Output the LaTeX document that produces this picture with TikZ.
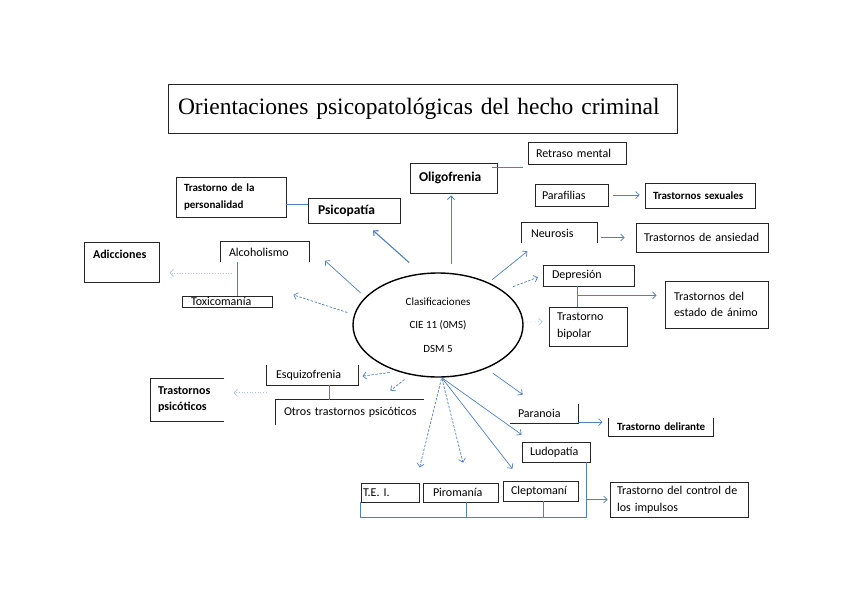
\documentclass[tikz,border=0pt]{standalone}
\usepackage{fontspec}
\setmainfont{Carlito}
\newfontfamily\titlefont{Liberation Serif}
\usetikzlibrary{arrows.meta, shapes.geometric}
\definecolor{linkblue}{RGB}{79,129,189}

\begin{document}
\begin{tikzpicture}[x=1pt, y=-1pt,
  box/.style={draw=black!85, line width=0.9pt, inner xsep=8pt, inner ysep=0pt, align=left,
              font=\fontsize{12}{14}\selectfont},
  open/.style={box, draw=none},
  frame/.style={draw=black!85, line width=0.9pt},
  arr/.style={draw=linkblue, line width=0.7pt, -{Straight Barb[length=3.5pt,width=7pt]}},
  darr/.style={arr, dash pattern=on 2.5pt off 1.5pt},
  farr/.style={arr, draw=linkblue!45, dotted},
  link/.style={draw=linkblue, line width=0.8pt}]
  \useasboundingbox (0,0) rectangle (848,600);
  \fill[white] (0,0) rectangle (848,600);

  \node[box, inner xsep=10pt, text width=489pt, minimum height=49pt, font=\titlefont\fontsize{23.5}{28}\selectfont] (title) at (422.5,108.5) {\mbox{Orientaciones psicopatológicas del hecho criminal}};

  \node[ellipse, draw, line width=1.4pt, minimum width=170pt, minimum height=104pt, align=center, font=\fontsize{11}{23.5}\selectfont] (cls) at (438,325) {Clasificaciones\\CIE 11 (0MS)\\DSM 5};

  \node[box, text width=94pt, minimum height=40pt, font=\bfseries\fontsize{11}{17}\selectfont] (pers) at (231,197) {\mbox{Trastorno de la}\\personalidad};
  \node[box, inner xsep=10pt, text width=72pt, minimum height=25pt, font=\bfseries\fontsize{13.5}{16}\selectfont] (psi) at (354,210.5) {Psicopatía};
  \node[box, inner xsep=9pt, text width=69pt, minimum height=30pt, font=\bfseries\fontsize{13.5}{16}\selectfont] (olig) at (453.5,178) {Oligofrenia};
  \node[box, text width=82pt, minimum height=22pt] (ret) at (577,153) {\mbox{Retraso mental}};
  \node[box, inner xsep=7pt, text width=59pt, minimum height=22pt] (paraf) at (571.5,195) {Parafilias};
  \node[box, text width=94pt, minimum height=25pt, font=\bfseries\fontsize{11}{13}\selectfont] (sex) at (700,195.5) {\mbox{Trastornos sexuales}};
  \node[open, inner xsep=9pt, text width=57pt, minimum height=20pt] (neu) at (559.5,233) {Neurosis};
  \node[box, text width=116pt, minimum height=29pt] (ans) at (702,237.5) {\mbox{Trastornos de ansiedad}};
  \node[box, inner xsep=9pt, text width=73pt, minimum height=21pt] (dep) at (588.5,275.5) {Depresión};
  \node[box, text width=62pt, minimum height=39pt, font=\fontsize{12}{17}\selectfont] (bip) at (588,326.5) {Trastorno\\bipolar};
  \node[box, inner xsep=9pt, text width=85pt, minimum height=47pt, font=\fontsize{12}{16}\selectfont] (est) at (716.5,304.5) {\mbox{Trastornos del}\\\mbox{estado de ánimo}};
  \node[open, text width=72pt, minimum height=20pt] (alc) at (265,252) {Alcoholismo};
  \node[box, inner xsep=9pt, text width=72pt, minimum height=11pt] (tox) at (227,301.5) {Toxicomanía};
  \node[box, inner xsep=9pt, text width=57pt, minimum height=40pt, text depth=16pt, font=\bfseries\fontsize{12}{14}\selectfont] (adi) at (121.5,262) {Adicciones};
  \node[open, inner xsep=7pt, text width=59pt, minimum height=42pt, font=\bfseries\fontsize{12}{16}\selectfont] (tps) at (187.5,400) {Trastornos\\psicóticos};
  \node[open, inner xsep=9pt, text width=73pt, minimum height=20pt] (esq) at (312.5,375) {Esquizofrenia};
  \node[open, text width=132pt, minimum height=25pt] (otr) at (350,412.5) {\mbox{Otros trastornos psicóticos}};
  \node[open, text width=52pt, minimum height=19pt] (par) at (544,413.5) {Paranoia};
  \node[open, text width=88pt, minimum height=18pt, font=\bfseries\fontsize{11}{13}\selectfont] (del) at (661,427) {\mbox{Trastorno delirante}};
  \node[box, text width=52pt, minimum height=20pt] (lud) at (556,452) {Ludopatía};
  \node[box, inner xsep=2pt, text width=54pt, minimum height=19pt] (tei) at (390,492.5) {\mbox{T.E. I.}};
  \node[box, inner xsep=10pt, text width=55pt, minimum height=19pt] (pir) at (460.5,492.5) {Piromanía};
  \node[box, text width=59pt, minimum height=20pt] (clp) at (540.5,491) {Cleptomaní};
  \node[box, inner xsep=7pt, text width=124pt, minimum height=35pt, font=\fontsize{12}{17}\selectfont] (ctl) at (679,499.5) {\mbox{Trastorno del control de}\\\mbox{los impulsos}};

  \draw[frame] (neu.south west) |- (neu.north east) -- (neu.south east);
  \draw[frame] (alc.south west) |- (alc.north east) -- (alc.south east);
  \draw[frame] (esq.north west) |- (esq.south east) -- (esq.north east);
  \draw[frame] (otr.south west) |- (otr.north east);
  \draw[frame] (par.south west) -| (par.north east);
  \draw[frame] (del.north west) |- (del.south east) -- (del.north east);
  \draw[frame] (tps.north east) -| (tps.south west) -- (tps.south east);

  \draw[arr, line width=1.1pt, shorten <=16pt, shorten >=10.5pt] (cls.108) -- (psi.-49);
  \draw[arr, line width=0.9pt, shorten <=8.5pt, shorten >=2pt] (cls.76) -- (cls.76 |- olig.south);
  \draw[arr, shorten <=6pt, shorten >=21pt] (cls.159) -- (alc.7);
  \draw[darr, shorten <=7pt, shorten >=22pt] (cls.173) -- ([yshift=7.5pt]tox.north east);
  \draw[arr, shorten <=4.5pt, shorten >=12.5pt] (cls.40) -- (neu.-155);
  \draw[darr, shorten <=11pt, shorten >=5pt] (cls.28) -- (dep.west);
  \draw[farr, shorten <=1pt, shorten >=6pt] (cls.2) -- (bip.173);
  \draw[darr, shorten <=8pt, shorten >=4pt] (cls.-131) -- (esq.-2);
  \draw[darr, shorten <=7.5pt, shorten >=14.5pt] (cls.-119) -- (otr.24);
  \draw[arr, shorten <=8pt, shorten >=15.5pt] (cls.-42) -- (par.131);
  \draw[arr, shorten <=1pt, shorten >=12pt] (cls.-86) -- (lud.157);
  \draw[arr, shorten <=1pt, shorten >=15pt] (cls.-86) -- (clp.151);
  \draw[darr, shorten <=1pt, shorten >=20.5pt] (cls.-86) -- (pir.53);
  \draw[darr, shorten <=1pt, shorten >=15.5pt] (cls.-86) -- (tei.21);

  \draw[link] (psi.173) -- (pers.east |- psi.173);
  \draw[link, shorten <=-5pt, shorten >=5pt] (olig.14) -- (ret.west |- olig.14);
  \draw[arr, shorten <=5pt, shorten >=5pt] (paraf.east) -- (sex.west |- paraf.east);
  \draw[arr, shorten <=4pt, shorten >=11pt] (neu.east |- ans.west) -- (ans.west);
  \draw[link] (dep.-135) -- (dep.-135 |- bip.north);
  \draw[arr, shorten >=8pt] (dep.-135 |- est.170) -- (est.170);
  \draw[link] (alc.-159) -- (alc.-159 |- tox.north);
  \draw[farr, shorten <=6pt, shorten >=10pt] (alc.-159 |- adi.-16) -- (adi.-16);
  \draw[link] (esq.-31) -- (esq.-31 |- otr.north);
  \draw[farr, shorten >=9pt] (esq.south west |- tps.11) -- (tps.11);
  \draw[arr, shorten >=6pt] (par.-14) -- (del.west |- par.-14);
  \draw[link] (tei.south west) -- (tei.south west |- ctl.south) -- (lud.-19 |- ctl.south) -- (lud.-19);
  \draw[link] (pir.-60) -- (pir.-60 |- ctl.south);
  \draw[link] (clp.-76) -- (clp.-76 |- ctl.south);
  \draw[arr, shorten >=2pt] (lud.-19 |- ctl.west) -- (ctl.west);
\end{tikzpicture}
\end{document}
